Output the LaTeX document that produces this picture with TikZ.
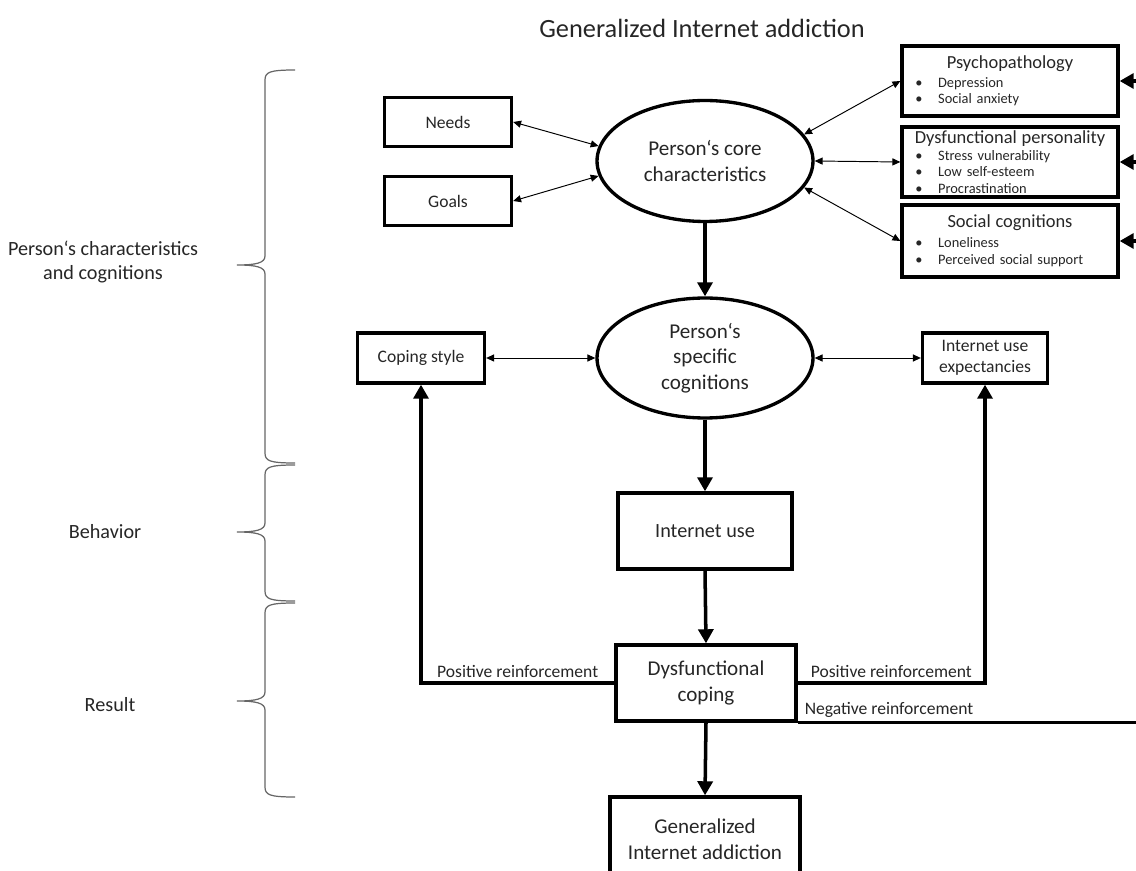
\documentclass[tikz,border=0pt]{standalone}
\usepackage{fontspec}
\setmainfont{Carlito}
\usepackage{tikz}
\usetikzlibrary{arrows.meta, positioning, shapes.geometric, calc}
\newcommand{\bitem}[2][0pt]{\\[#1]\hspace*{3pt}\makebox[13pt][l]{\textbullet}#2}

\begin{document}
\begin{tikzpicture}[
  x=0.02cm, y=-0.02cm,
  font=\fontsize{11.5}{13.5}\selectfont, text=black!85,
  bx/.style={rectangle, draw=black, line width=1.9pt, align=center, inner sep=2pt},
  ovl/.style={ellipse, draw=black, line width=1.9pt, align=center, inner sep=0pt,
              minimum width=4.32cm, minimum height=2.42cm, font=\fontsize{12}{14.5}\selectfont},
  side/.style={rectangle, draw=black, line width=1.9pt, align=left, text width=4.0cm,
               inner xsep=0.16cm, inner ysep=1pt, minimum height=1.4cm,
               font=\fontsize{8.2}{9.4}\selectfont},
  arr/.style={-{Triangle[length=8pt,width=8.5pt]}, line width=2pt},
  dbl/.style={{Triangle[length=4.5pt,width=4pt]}-{Triangle[length=4.5pt,width=4pt]}, line width=0.55pt},
  brc/.style={draw=black!60, line width=0.7pt},
  lbl/.style={font=\fontsize{10}{12}\selectfont, inner sep=2pt}
]
\useasboundingbox (0,0) rectangle (1136,871);
%% title
\node (title) at (702,28) {\fontsize{15}{18}\selectfont Generalized Internet addiction};
%% level labels
\node[align=center] (lchar) at (103,262) {Person`s characteristics\\and cognitions};
\node (lbeh) at (105,532) {Behavior};
\node (lres) at (110,705) {Result};
%% braces
\foreach \t/\m/\b in {70/265/463, 465/532/601, 603/701/797}
  \draw[brc] (295,\t) .. controls (270,\t) and (265,\t+2) .. (265,\t+10)
    -- (265,\m-9) .. controls (265,\m-2) and (256,\m) .. (237,\m)
    .. controls (256,\m) and (265,\m+2) .. (265,\m+9)
    -- (265,\b-10) .. controls (265,\b-2) and (270,\b) .. (295,\b);
%% nodes
\node[bx, minimum width=2.54cm, minimum height=0.98cm, font=\fontsize{10}{12}\selectfont] (needs) at (448,122) {Needs};
\node[bx, minimum width=2.54cm, minimum height=0.98cm, font=\fontsize{10}{12}\selectfont] (goals) at (448,201) {Goals};
\node[ovl] (core) at (705,161) {Person`s core\\characteristics};
\node[side] (psy) at (1010,81)
  {\makebox[\linewidth]{\fontsize{10.5}{12}\selectfont Psychopathology}%
   \bitem[1pt]{Depression}\bitem{Social anxiety}};
\node[side] (dyp) at (1010,162)
  {\makebox[\linewidth]{\fontsize{10.5}{12}\selectfont Dysfunctional personality}%
   \bitem{Stress vulnerability}\bitem{Low self-esteem}\bitem{Procrastination}};
\node[side, minimum height=1.44cm] (soc) at (1010,241)
  {\makebox[\linewidth]{\fontsize{10.5}{12}\selectfont Social cognitions}%
   \bitem[2pt]{Loneliness}\bitem{Perceived social support}};
\node[ovl, minimum height=2.4cm] (spec) at (705,358) {Person`s\\specific\\cognitions};
\node[bx, minimum width=2.54cm, minimum height=1.0cm, font=\fontsize{10}{12}\selectfont] (cop) at (421,358) {Coping style};
\node[bx, minimum width=2.5cm, minimum height=1.0cm, font=\fontsize{10}{12}\selectfont] (exp) at (985,358) {Internet use\\expectancies};
\node[bx, minimum width=3.48cm, minimum height=1.52cm] (use) at (705,531) {Internet use};
\node[bx, minimum width=3.6cm, minimum height=1.52cm, font=\fontsize{12}{15}\selectfont] (dcop) at (706,683) {Dysfunctional\\coping};
\node[bx, minimum width=3.8cm, minimum height=1.68cm, font=\fontsize{12}{15}\selectfont] (gia) at (705,839) {Generalized\\Internet addiction};
\coordinate (redge) at (1136,0);
%% thin links
\draw[dbl] (needs.east) -- (core.172);
\draw[dbl] (goals.east) -- (core.188);
\draw[dbl] (core.15)  -- (psy.west);
\draw[dbl] (core.east) -- (dyp.west);
\draw[dbl] (core.-15) -- (soc.west);
\draw[dbl] (cop.east) -- (spec.west);
\draw[dbl] (spec.east) -- (exp.west);
%% main chain
\draw[arr] (core.south) -- (spec.north);
\draw[arr] (spec.south) -- (use.north);
\draw[arr] (use.south) -- (dcop.north);
\draw[arr] (dcop.south) -- (gia.north);
%% feedback
\draw[arr] (dcop.west) -| (cop.south)
  node[lbl, pos=0.25, above] {Positive reinforcement};
\draw[arr] (dcop.east) -| (exp.south)
  node[lbl, pos=0.25, above] {Positive reinforcement};
\draw[line width=2pt] (dcop.south east) -- (dcop.south east -| redge)
  node[lbl, pos=0.27, above] {Negative reinforcement};
\draw[arr] (psy.east -| redge) -- (psy.east);
\draw[arr] (dyp.east -| redge) -- (dyp.east);
\draw[arr] (soc.east -| redge) -- (soc.east);
\end{tikzpicture}
\end{document}
